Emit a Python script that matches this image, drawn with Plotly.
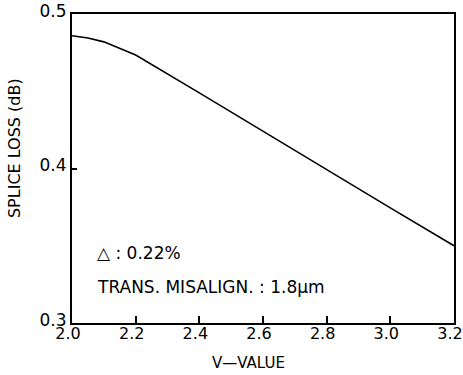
import plotly.graph_objects as go

v_value = [2.0, 2.05, 2.1, 2.15, 2.2, 2.4, 2.6, 2.8, 3.0, 3.2]
splice_loss = [0.486, 0.4845, 0.482, 0.478, 0.4735, 0.449, 0.424, 0.3995, 0.3745, 0.350]
x_ticks = [2.0, 2.2, 2.4, 2.6, 2.8, 3.0, 3.2]
y_ticks = [0.3, 0.4, 0.5]

FONT = "DejaVu Sans, sans-serif"

fig = go.Figure()
fig.add_trace(go.Scatter(x=v_value, y=splice_loss, mode="lines",
                         line=dict(color="black", width=1.6), showlegend=False))

fig.update_layout(
    width=463, height=375,
    margin=dict(l=72, r=9, t=14, b=52, autoexpand=False),
    paper_bgcolor="white", plot_bgcolor="white",
    font=dict(family=FONT, color="black", size=17),
    xaxis=dict(range=[1.9999, 3.2001], tickvals=x_ticks, ticktext=[f"{t:.1f}" for t in x_ticks],
               tickfont=dict(size=16),
               ticks="inside", ticklen=7, tickwidth=1.5, tickcolor="black",
               ticklabeloverflow="allow", ticklabelstandoff=-5, ticklabelshift=-4,
               automargin=False,
               showline=True, linecolor="black", linewidth=2, mirror=True,
               showgrid=False, zeroline=False),
    yaxis=dict(range=[0.29995, 0.50005], tickvals=y_ticks, ticktext=[f"{t:.1f}" for t in y_ticks],
               ticks="inside", ticklen=5, tickwidth=1.5, tickcolor="black",
               ticklabelshift=-3, automargin=False,
               showline=True, linecolor="black", linewidth=2, mirror=True,
               showgrid=False, zeroline=False),
    annotations=[
        dict(x=2.072, y=0.3453, xref="x", yref="y", text="△ : 0.22%", showarrow=False,
             xanchor="left", yanchor="middle", font=dict(size=17)),
        dict(x=2.072, y=0.3233, xref="x", yref="y", text="TRANS. MISALIGN. : 1.8μm", showarrow=False,
             xanchor="left", yanchor="middle", font=dict(size=17)),
        dict(x=0.463, y=-0.166, xref="paper", yref="paper", text="V—VALUE", showarrow=False,
             xanchor="center", yanchor="bottom", font=dict(size=15)),
        dict(x=-0.152, y=0.566, xref="paper", yref="paper", text="SPLICE LOSS (dB)", showarrow=False,
             textangle=-90, xanchor="center", yanchor="middle", font=dict(size=16)),
    ],
)

fig.write_html("out.html")
